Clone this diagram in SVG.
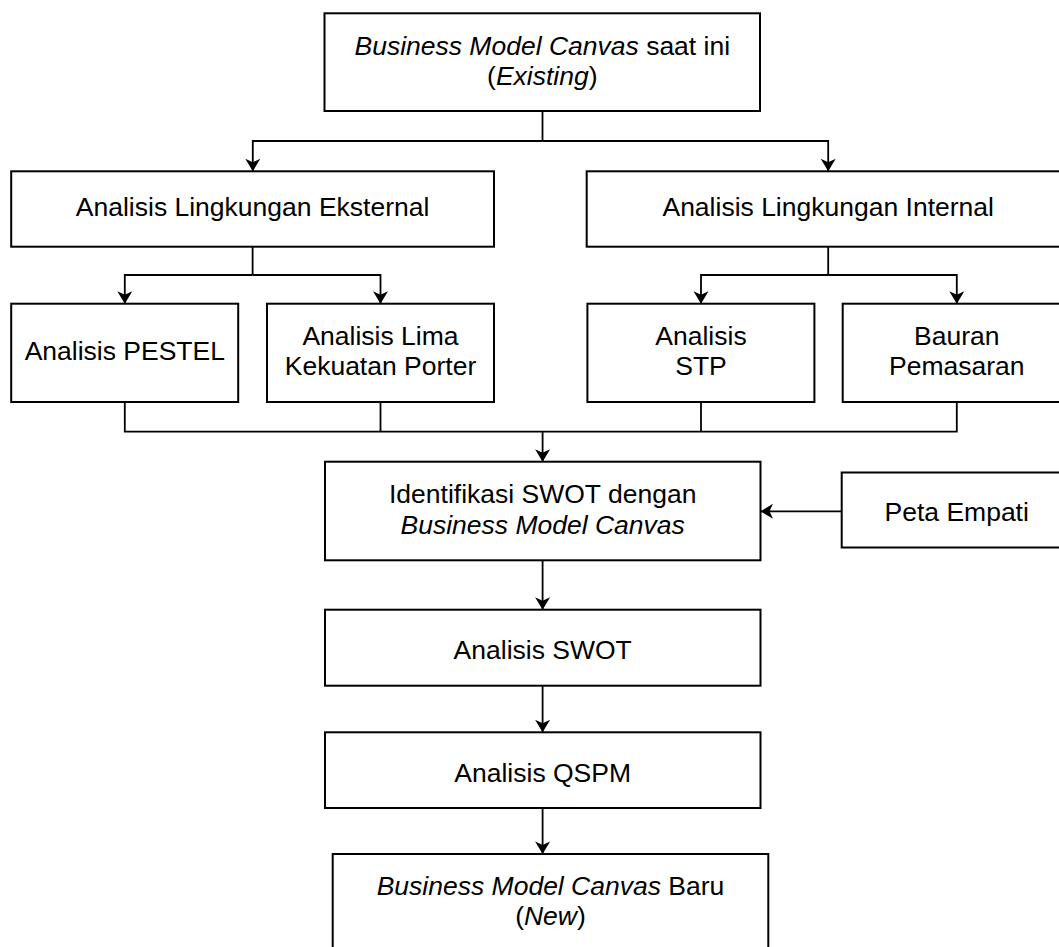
<svg xmlns="http://www.w3.org/2000/svg" width="1059" height="947" viewBox="0 0 1059 947">
<style>
.box{fill:#fff;stroke:#000;stroke-width:2}
.t{font-family:"Liberation Sans",Arial,sans-serif;font-size:26.5px;fill:#000;text-anchor:middle}
.i{font-style:italic}
.c{fill:none;stroke:#000;stroke-width:1.8}
.a{fill:none;stroke:#000;stroke-width:1.8;marker-end:url(#arr)}
</style>
<defs>
<marker id="arr" markerUnits="userSpaceOnUse" markerWidth="16" markerHeight="18" viewBox="-1 -9 16 18" refX="12.5" refY="0" orient="auto">
<path d="M0,-7.5 L12.5,0 L0,7.5 L3.5,0 Z" fill="#000"/>
</marker>
</defs>
<rect width="1059" height="947" fill="#fff"/>
<g id="connectors">
<path class="c" d="M542.5,111 V141"/>
<path class="a" d="M542.5,141 H252.8 V171.3"/>
<path class="a" d="M542.5,141 H828.2 V171.3"/>
<path class="c" d="M252.6,247 V275"/>
<path class="a" d="M252.6,275 H124.8 V303.7"/>
<path class="a" d="M252.6,275 H380.5 V303.7"/>
<path class="c" d="M828.2,247 V275"/>
<path class="a" d="M828.2,275 H701 V303.7"/>
<path class="a" d="M828.2,275 H956.8 V303.7"/>
<path class="c" d="M124.8,402 V431.7 H956.8 V402"/>
<path class="c" d="M380.5,402 V431.7"/>
<path class="c" d="M701,402 V431.7"/>
<path class="a" d="M542.6,431.7 V461.7"/>
<path class="a" d="M841.7,511.3 H760.5"/>
<path class="a" d="M542.6,560.3 V609.7"/>
<path class="a" d="M542.6,685.7 V732.3"/>
<path class="a" d="M542.6,808 V854"/>
</g>
<g id="bmc-existing">
<rect class="box" x="324.5" y="13.3" width="435.5" height="97.7"/>
<text class="t" x="542.3" y="55"><tspan class="i">Business Model Canvas</tspan> saat ini</text>
<text class="t" x="542.3" y="85">(<tspan class="i">Existing</tspan>)</text>
</g>
<g id="eksternal">
<rect class="box" x="11.2" y="171.3" width="482.8" height="75.4"/>
<text class="t" x="252.6" y="216">Analisis Lingkungan Eksternal</text>
</g>
<g id="internal">
<rect class="box" x="586.7" y="171.3" width="483" height="75.4"/>
<text class="t" x="828.2" y="216">Analisis Lingkungan Internal</text>
</g>
<g id="pestel">
<rect class="box" x="11.2" y="303.7" width="227" height="98.3"/>
<text class="t" x="124.8" y="360">Analisis PESTEL</text>
</g>
<g id="porter">
<rect class="box" x="267" y="303.7" width="227" height="98.3"/>
<text class="t" x="380.5" y="345">Analisis Lima</text>
<text class="t" x="380.5" y="375">Kekuatan Porter</text>
</g>
<g id="stp">
<rect class="box" x="587.4" y="303.7" width="227" height="98.3"/>
<text class="t" x="701" y="345">Analisis</text>
<text class="t" x="701" y="375">STP</text>
</g>
<g id="bauran">
<rect class="box" x="842.7" y="303.7" width="228.2" height="98.3"/>
<text class="t" x="956.8" y="345">Bauran</text>
<text class="t" x="956.8" y="375">Pemasaran</text>
</g>
<g id="identifikasi-swot">
<rect class="box" x="325" y="461.7" width="435.5" height="98.6"/>
<text class="t" x="542.7" y="503.3">Identifikasi SWOT dengan</text>
<text class="t i" x="542.7" y="533.5">Business Model Canvas</text>
</g>
<g id="peta-empati">
<rect class="box" x="841.7" y="472.5" width="229" height="75"/>
<text class="t" x="956.7" y="521">Peta Empati</text>
</g>
<g id="analisis-swot">
<rect class="box" x="325" y="609.7" width="435.5" height="76"/>
<text class="t" x="542.7" y="659">Analisis SWOT</text>
</g>
<g id="qspm">
<rect class="box" x="325" y="732.3" width="435.5" height="75.7"/>
<text class="t" x="542.7" y="781.7">Analisis QSPM</text>
</g>
<g id="bmc-baru">
<rect class="box" x="332.7" y="854" width="435.6" height="110"/>
<text class="t" x="550.5" y="895"><tspan class="i">Business Model Canvas</tspan> Baru</text>
<text class="t" x="550.5" y="925">(<tspan class="i">New</tspan>)</text>
</g>
</svg>
